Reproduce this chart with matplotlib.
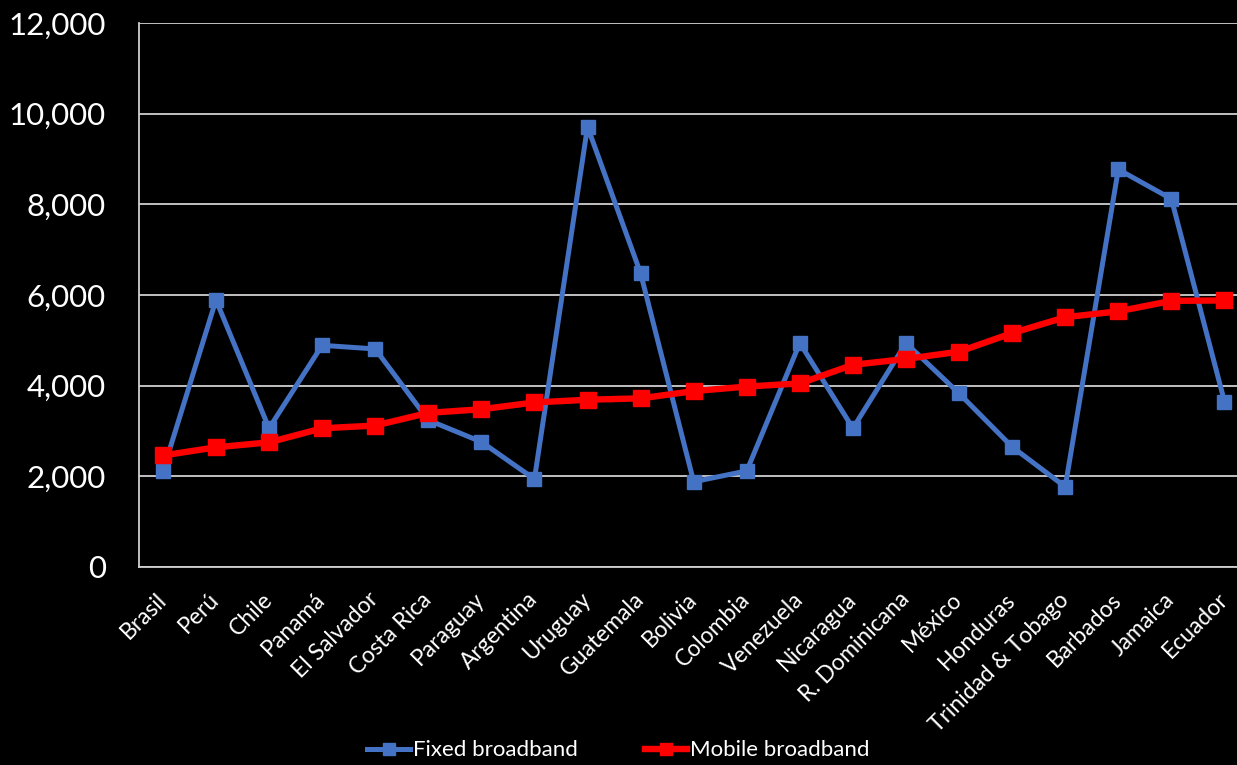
import numpy as np
import matplotlib.pyplot as plt
from matplotlib.ticker import FuncFormatter

# Países (eje de categorías)
countries = [
    "Brasil", "Perú", "Chile", "Panamá", "El Salvador", "Costa Rica",
    "Paraguay", "Argentina", "Uruguay", "Guatemala", "Bolivia", "Colombia",
    "Venezuela", "Nicaragua", "R. Dominicana", "México", "Honduras",
    "Trinidad & Tobago", "Barbados", "Jamaica", "Ecuador",
]

# Series
fixed_broadband = [
    2110, 5890, 3060, 4890, 4810, 3240, 2760, 1940, 9710, 6480, 1880,
    2120, 4940, 3060, 4940, 3830, 2650, 1770, 8770, 8120, 3650,
]
mobile_broadband = [
    2460, 2640, 2750, 3060, 3120, 3400, 3480, 3630, 3690, 3720, 3880,
    3980, 4050, 4460, 4590, 4750, 5160, 5510, 5640, 5870, 5880,
]

y_ticks = [0, 2000, 4000, 6000, 8000, 10000, 12000]

plt.rcParams["font.family"] = ["Lato", "DejaVu Sans"]

fig = plt.figure(figsize=(12.37, 7.65), dpi=100, facecolor="black")
ax = fig.add_axes([139 / 1237, 198 / 765, 1112 / 1237, 544 / 765])
ax.set_facecolor("black")

x = np.arange(len(countries))

ax.plot(x, fixed_broadband, color="#4472C4", linewidth=3.6,
        marker="s", markersize=10.5, label="Fixed broadband", zorder=3)
ax.plot(x, mobile_broadband, color="#FF0000", linewidth=4.6,
        marker="s", markersize=11.5, label="Mobile broadband", zorder=4)

ax.set_xlim(-0.45, len(countries) - 0.5)
ax.set_ylim(0, 12000)

# Rejilla y marco
ax.set_yticks(y_ticks)
ax.yaxis.grid(True, color="#d0d0d0", linewidth=1.3)
ax.set_axisbelow(True)
for side in ["top", "right"]:
    ax.spines[side].set_visible(False)
ax.spines["left"].set_color("#d0d0d0")
ax.spines["left"].set_linewidth(1.3)
ax.spines["bottom"].set_color("#d0d0d0")
ax.spines["bottom"].set_linewidth(1.3)

ax.yaxis.set_major_formatter(FuncFormatter(lambda v, p: f"{int(v):,}"))
ax.tick_params(axis="y", length=0, pad=24, labelsize=22.5, labelcolor="white")

ax.set_xticks(x)
ax.set_xticklabels(countries, rotation=45, ha="right", va="center",
                   rotation_mode="anchor", fontsize=16.5, color="white")
ax.tick_params(axis="x", length=0, pad=21)

leg = fig.legend(loc="lower center", bbox_to_anchor=(0.5, -0.02), ncol=2,
                 frameon=False, fontsize=16, labelcolor="white",
                 handlelength=1.9, handletextpad=0.15, columnspacing=3.0,
                 markerscale=0.8)

fig.savefig("out.png", dpi=100, facecolor="black")
